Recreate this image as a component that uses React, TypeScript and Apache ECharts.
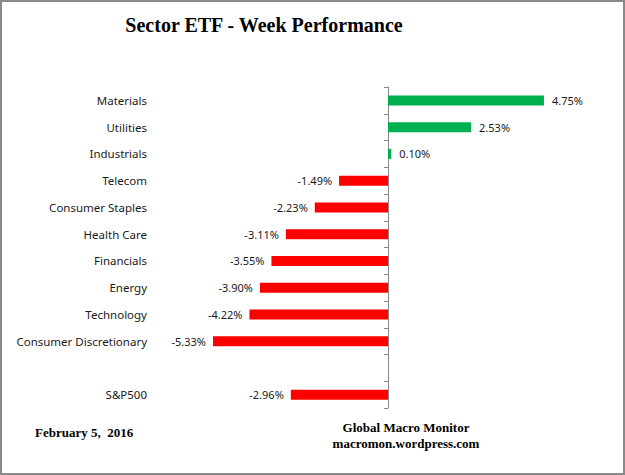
import React, { useEffect, useRef } from "react";
import * as echarts from "echarts";

const categories = [
  "Materials",
  "Utilities",
  "Industrials",
  "Telecom",
  "Consumer Staples",
  "Health Care",
  "Financials",
  "Energy",
  "Technology",
  "Consumer Discretionary",
  "",
  "S&P500",
];
const values: (number | null)[] = [4.75, 2.53, 0.1, -1.49, -2.23, -3.11, -3.55, -3.9, -4.22, -5.33, null, -2.96];
const title = "Sector ETF - Week Performance";
const dateText = "February 5,  2016";
const source1 = "Global Macro Monitor";
const source2 = "macromon.wordpress.com";

export default function App() {
  const ref = useRef<HTMLDivElement>(null);
  useEffect(() => {
    document.body.style.margin = "0";
    const chart = echarts.init(ref.current!, null, { renderer: "svg" });
    const labelFont = { fontFamily: "Noto Sans", fontSize: 11, color: "#1a1a1a" };
    chart.setOption({
      animation: false,
      backgroundColor: "#ffffff",
      graphic: [
        {
          type: "text",
          x: 264,
          y: 15,
          style: { text: title, font: "bold 20px 'Liberation Serif'", fill: "#000", align: "center" },
        },
        {
          type: "text",
          x: 35,
          y: 426,
          style: { text: dateText, font: "bold 13px 'Liberation Serif'", fill: "#000" },
        },
        {
          type: "text",
          x: 406,
          y: 421,
          style: { text: source1, font: "bold 13px 'Liberation Serif'", fill: "#000", align: "center" },
        },
        {
          type: "text",
          x: 406,
          y: 437,
          style: { text: source2, font: "bold 13px 'Liberation Serif'", fill: "#000", align: "center" },
        },
      ],
      grid: { left: 191, right: 40, top: 87, bottom: 67, containLabel: false, outerBoundsMode: "none" },
      xAxis: {
        type: "value",
        min: -6,
        max: 6,
        show: false,
      },
      yAxis: {
        type: "category",
        data: categories,
        inverse: true,
        axisLine: { onZero: true, lineStyle: { color: "#868686", width: 1 } },
        axisTick: { show: true, length: 4, lineStyle: { color: "#868686" } },
        axisLabel: { margin: 44, ...labelFont, fontSize: 11.5 },
        splitLine: { show: false },
      },
      series: [
        {
          type: "bar",
          barWidth: 10,
          data: values.map((v) =>
            v === null
              ? null
              : {
                  value: v,
                  itemStyle: { color: v >= 0 ? "#00b050" : "#ff0000" },
                  label: {
                    show: true,
                    position: v >= 0 ? "right" : "left",
                    distance: v >= 0 ? 8 : 7,
                    formatter: (p: any) => Number(p.value).toFixed(2) + "%",
                    ...labelFont,
                  },
                }
          ),
        },
      ],
    });
    return () => chart.dispose();
  }, []);
  return (
    <div style={{ width: 625, height: 475, boxSizing: "border-box", border: "2px solid #8a8a8a", position: "relative" }}>
      <div ref={ref} style={{ position: "absolute", left: -2, top: -2, width: 625, height: 475, zIndex: -1 }} />
    </div>
  );
}
